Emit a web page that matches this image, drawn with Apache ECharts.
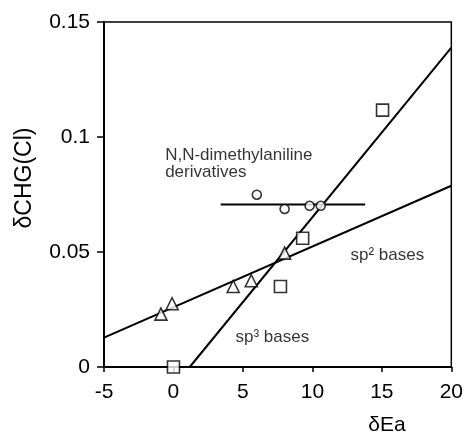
<!DOCTYPE html>
<html>
<head>
<meta charset="utf-8">
<script src="https://cdn.jsdelivr.net/npm/echarts@6/dist/echarts.min.js"></script>
<style>
  html, body { margin: 0; padding: 0; background: #fff; }
  #chart { width: 466px; height: 435px; }
</style>
</head>
<body>
<div id="chart"></div>
<script>
// sp2 bases (triangles)
const triX = [-0.9, -0.1, 4.3, 5.6, 8.0];
const triY = [0.023, 0.0275, 0.035, 0.0375, 0.0495];
// sp3 bases (squares)
const sqX = [0.0, 7.7, 9.3, 15.05];
const sqY = [0.0, 0.035, 0.056, 0.1117];
// N,N-dimethylaniline derivatives (circles)
const cirX = [6.0, 8.0, 9.8, 10.6];
const cirY = [0.0749, 0.0687, 0.0701, 0.0701];
// fitted lines: [x, y] endpoints
const lineSp2 = [[-5, 0.0128], [20, 0.0788]];
const lineSp3 = [[1.17, 0], [20, 0.1389]];
const lineAni = [[3.4, 0.0707], [13.8, 0.0707]];
// annotations: [x, y, text]
const notes = [
    [-0.6, 0.0921, 'N,N-dimethylaniline'],
    [-0.6, 0.0845, 'derivatives'],
    [12.74, 0.0487, 'sp\u00b2 bases'],
    [4.46, 0.0128, 'sp\u00b3 bases']
];
const xTicks = [-5, 20, 5];
const yTicks = [0, 0.15, 0.05];

const zip = (xs, ys) => xs.map((x, i) => [x, ys[i]]);

const chart = echarts.init(document.getElementById('chart'));
const font = 'Liberation Sans, Arial, Helvetica, sans-serif';

const lineSeries = (data) => ({
    type: 'line',
    data: data,
    symbol: 'none',
    silent: true,
    lineStyle: { color: '#000', width: 2 },
    z: 2
});

const markerSeries = (data, symbol, size) => ({
    type: 'scatter',
    data: data,
    symbol: symbol,
    symbolSize: size,
    itemStyle: { color: '#fff', borderColor: '#000', borderWidth: 1.6 },
    z: 3
});

chart.setOption({
    animation: false,
    backgroundColor: '#fff',
    grid: {
        left: 104, right: 12, top: 22, bottom: 68,
        show: true, borderColor: '#000', borderWidth: 1.5
    },
    xAxis: {
        type: 'value',
        min: xTicks[0], max: xTicks[1], interval: xTicks[2],
        axisLine: { show: true, onZero: false, lineStyle: { color: '#000', width: 2 } },
        axisTick: { show: true, length: 5, lineStyle: { color: '#000', width: 1.5 } },
        axisLabel: { color: '#000', fontSize: 21, fontFamily: font, margin: 15 },
        splitLine: { show: false }
    },
    yAxis: {
        type: 'value',
        min: yTicks[0], max: yTicks[1], interval: yTicks[2],
        axisLine: { show: true, onZero: false, lineStyle: { color: '#000', width: 2 } },
        axisTick: { show: true, length: 7, lineStyle: { color: '#000', width: 1.5 } },
        axisLabel: { color: '#000', fontSize: 21, fontFamily: font, margin: 14 },
        splitLine: { show: false }
    },
    graphic: [{
        type: 'text',
        x: 387, y: 425,
        style: {
            text: '\u03b4Ea', fill: '#000', font: '21px ' + font,
            textAlign: 'center', textVerticalAlign: 'middle'
        }
    }, {
        type: 'text',
        x: 25, y: 178,
        rotation: Math.PI / 2,
        style: {
            text: '\u03b4CHG(Cl)', fill: '#000', font: '23px ' + font,
            textAlign: 'center', textVerticalAlign: 'middle'
        }
    }],
    series: [
        lineSeries(lineSp2),
        lineSeries(lineSp3),
        lineSeries(lineAni),
        markerSeries(zip(triX, triY), 'triangle', 12),
        markerSeries(zip(sqX, sqY), 'rect', 12),
        markerSeries(zip(cirX, cirY), 'circle', 9),
        {
            type: 'scatter',
            data: notes.map(n => ({ value: [n[0], n[1]], name: n[2] })),
            symbolSize: 0,
            silent: true,
            label: {
                show: true,
                position: 'right',
                distance: 0,
                formatter: p => p.name,
                color: '#000',
                fontSize: 17,
                fontFamily: font
            },
            z: 4
        }
    ]
});
</script>
</body>
</html>
